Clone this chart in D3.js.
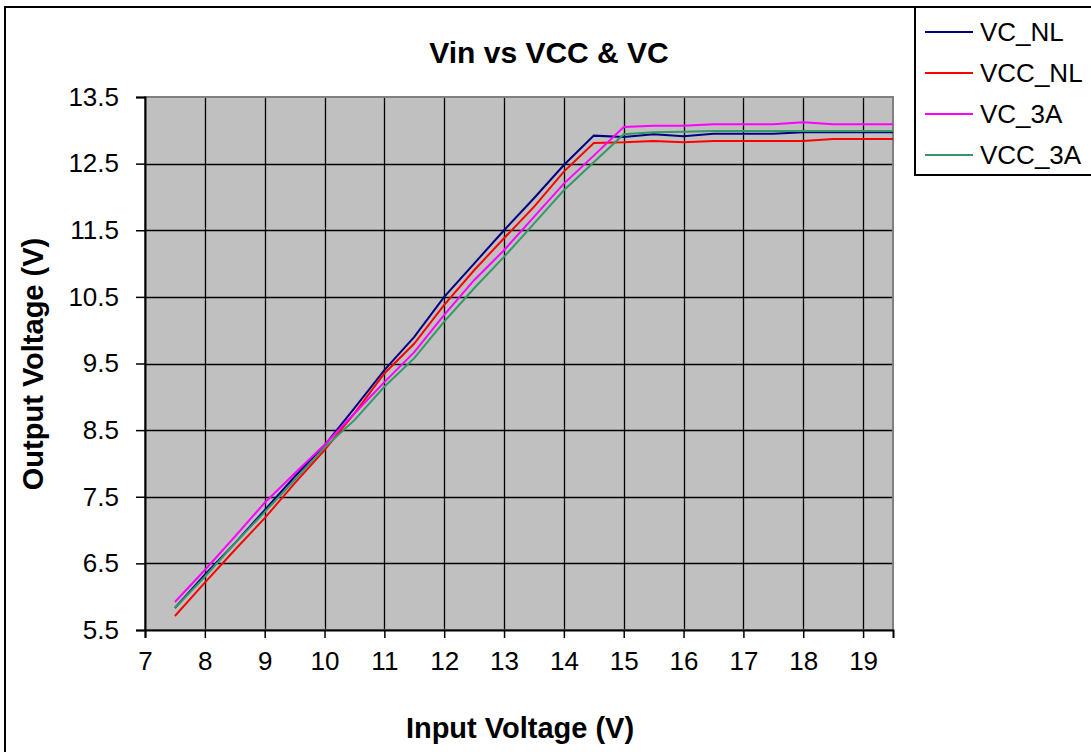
<!DOCTYPE html>
<html>
<head>
<meta charset="utf-8">
<script src="https://cdn.jsdelivr.net/npm/d3@7"></script>
<style>
  body { margin: 0; background: #fff; }
  svg text { font-family: Arial, "Liberation Sans", sans-serif; fill: #000; }
</style>
</head>
<body>
<div id="chart"></div>
<script>
// input voltage steps
var vin = [7.5, 8, 8.5, 9, 9.5, 10, 10.5, 11, 11.5, 12, 12.5, 13, 13.5, 14, 14.5,
           15, 15.5, 16, 16.5, 17, 17.5, 18, 18.5, 19, 19.5];

var vcNL  = [5.83, 6.33, 6.8, 7.3, 7.8, 8.27, 8.83, 9.4, 9.9, 10.5, 11.0, 11.5, 11.98, 12.48, 12.92,
             12.9, 12.94, 12.91, 12.95, 12.95, 12.95, 12.97, 12.97, 12.97, 12.97];
var vccNL = [5.71, 6.21, 6.7, 7.18, 7.7, 8.2, 8.75, 9.35, 9.8, 10.38, 10.9, 11.38, 11.85, 12.38, 12.81,
             12.82, 12.84, 12.82, 12.84, 12.84, 12.84, 12.84, 12.87, 12.87, 12.87];
var vc3A  = [5.92, 6.4, 6.9, 7.41, 7.85, 8.28, 8.75, 9.22, 9.67, 10.23, 10.75, 11.2, 11.7, 12.2, 12.62,
             13.05, 13.07, 13.07, 13.09, 13.09, 13.09, 13.12, 13.09, 13.09, 13.09];
var vcc3A = [5.83, 6.3, 6.8, 7.27, 7.75, 8.24, 8.65, 9.15, 9.58, 10.13, 10.63, 11.1, 11.6, 12.1, 12.52,
             12.94, 12.97, 12.98, 12.99, 12.99, 12.99, 12.99, 12.99, 12.99, 12.99];

var seriesNames = ["VC_NL", "VCC_NL", "VC_3A", "VCC_3A"];
var seriesColors = ["#000080", "#ff0000", "#ff00ff", "#339966"];
var seriesValues = [vcNL, vccNL, vc3A, vcc3A];

var xTicks = [7, 8, 9, 10, 11, 12, 13, 14, 15, 16, 17, 18, 19];
var yTicks = [5.5, 6.5, 7.5, 8.5, 9.5, 10.5, 11.5, 12.5, 13.5];

var W = 1091, H = 752;
var plot = { left: 145, top: 97, right: 893, bottom: 630 };

var svg = d3.select("#chart").append("svg")
  .attr("width", W)
  .attr("height", H);

// outer chart border
svg.append("rect")
  .attr("x", 5).attr("y", 7)
  .attr("width", W + 10).attr("height", H + 10)
  .attr("fill", "#fff")
  .attr("stroke", "#000")
  .attr("stroke-width", 2);

var x = d3.scaleLinear().domain([7, 19.5]).range([plot.left, plot.right]);
var y = d3.scaleLinear().domain([5.5, 13.5]).range([plot.bottom, plot.top]);

// plot background
svg.append("rect")
  .attr("x", plot.left).attr("y", plot.top)
  .attr("width", plot.right - plot.left)
  .attr("height", plot.bottom - plot.top)
  .attr("fill", "#c0c0c0");

// grid
svg.append("g")
  .selectAll("line")
  .data(xTicks.slice(1))
  .enter().append("line")
  .attr("x1", function(d) { return Math.round(x(d)) + 0.5; })
  .attr("x2", function(d) { return Math.round(x(d)) + 0.5; })
  .attr("y1", plot.top).attr("y2", plot.bottom)
  .attr("stroke", "#000").attr("stroke-width", 1.3);

svg.append("g")
  .selectAll("line")
  .data(yTicks.slice(1, -1))
  .enter().append("line")
  .attr("y1", function(d) { return Math.round(y(d)) + 0.5; })
  .attr("y2", function(d) { return Math.round(y(d)) + 0.5; })
  .attr("x1", plot.left).attr("x2", plot.right)
  .attr("stroke", "#000").attr("stroke-width", 1.3);

// plot frame
svg.append("rect")
  .attr("x", plot.left).attr("y", plot.top)
  .attr("width", plot.right - plot.left)
  .attr("height", plot.bottom - plot.top)
  .attr("fill", "none")
  .attr("stroke", "#808080")
  .attr("stroke-width", 2);

// axes
var xAxis = d3.axisBottom(x).tickValues(xTicks).tickSize(8).tickPadding(14)
  .tickFormat(d3.format("d"));
var gx = svg.append("g")
  .attr("transform", "translate(0," + plot.bottom + ")")
  .call(xAxis);
gx.select(".domain").attr("stroke", "#000").attr("stroke-width", 2);
gx.selectAll(".tick line").attr("stroke", "#000").attr("stroke-width", 1.5);
gx.selectAll("text").style("font-size", "26px");

var yAxis = d3.axisLeft(y).tickValues(yTicks).tickSize(9).tickPadding(17)
  .tickFormat(d3.format(".1f"));
var gy = svg.append("g")
  .attr("transform", "translate(" + plot.left + ",0)")
  .call(yAxis);
gy.select(".domain").attr("stroke", "#000").attr("stroke-width", 2);
gy.selectAll(".tick line").attr("stroke", "#000").attr("stroke-width", 1.5);
gy.selectAll("text").style("font-size", "26px");

// series lines
var line = d3.line()
  .x(function(d) { return x(d[0]); })
  .y(function(d) { return y(d[1]); });

seriesValues.forEach(function(vals, i) {
  var pts = vin.map(function(v, j) { return [v, vals[j]]; });
  svg.append("path")
    .datum(pts)
    .attr("d", line)
    .attr("fill", "none")
    .attr("stroke", seriesColors[i])
    .attr("stroke-width", 2);
});

// titles
svg.append("text")
  .attr("x", 549).attr("y", 63)
  .attr("text-anchor", "middle")
  .style("font-size", "30px")
  .style("font-weight", "bold")
  .text("Vin vs VCC & VC");

svg.append("text")
  .attr("x", 520).attr("y", 738)
  .attr("text-anchor", "middle")
  .style("font-size", "29px")
  .style("font-weight", "bold")
  .text("Input Voltage (V)");

svg.append("text")
  .attr("transform", "translate(43,364) rotate(-90)")
  .attr("text-anchor", "middle")
  .style("font-size", "29px")
  .style("font-weight", "bold")
  .text("Output Voltage (V)");

// legend
var legend = svg.append("g");
legend.append("rect")
  .attr("x", 915).attr("y", 7)
  .attr("width", 190).attr("height", 168)
  .attr("fill", "#fff")
  .attr("stroke", "#000")
  .attr("stroke-width", 2);

var rows = legend.selectAll("g.row")
  .data(seriesNames)
  .enter().append("g")
  .attr("class", "row")
  .attr("transform", function(d, i) { return "translate(0," + (32 + i * 41) + ")"; });

rows.append("line")
  .attr("x1", 925).attr("x2", 973)
  .attr("y1", 0).attr("y2", 0)
  .attr("stroke", function(d, i) { return seriesColors[i]; })
  .attr("stroke-width", 2);

rows.append("text")
  .attr("x", 980).attr("y", 9)
  .style("font-size", "26px")
  .text(function(d) { return d; });
</script>
</body>
</html>
